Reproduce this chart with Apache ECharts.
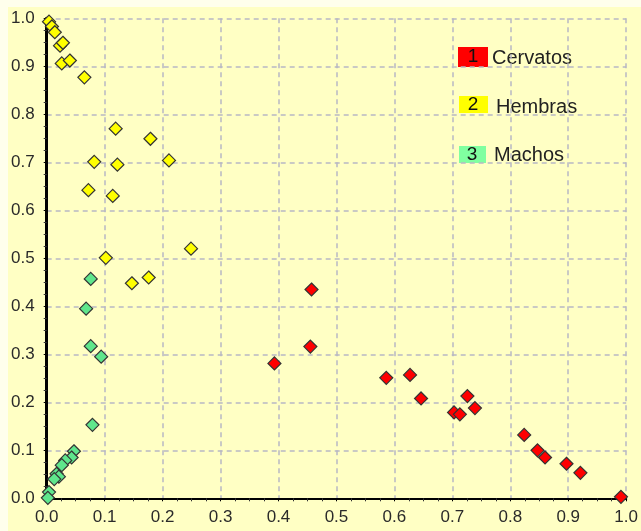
<!DOCTYPE html>
<html><head><meta charset="utf-8">
<script src="https://cdn.jsdelivr.net/npm/echarts@6/dist/echarts.min.js"></script>
<style>
html,body{margin:0;padding:0;background:#FFFFEC;}
#wrap{position:relative;width:641px;height:531px;}
#bg{position:absolute;left:8px;top:7px;right:0;bottom:0;background:#FFFFC4;}
#c{position:absolute;left:0;top:0;width:641px;height:531px;}
</style>
</head><body><div id="wrap"><div id="bg"></div><div id="c"></div></div>
<script>
const seriesNames = ['Cervatos', 'Hembras', 'Machos'];
const cervatos = [
  [0.457,0.435],[0.455,0.316],[0.393,0.281],[0.586,0.251],[0.627,0.257],[0.646,0.208],
  [0.703,0.179],[0.713,0.175],[0.726,0.213],[0.739,0.188],[0.824,0.132],[0.847,0.100],
  [0.860,0.085],[0.897,0.072],[0.921,0.053],[0.991,0.003]
];
const hembras = [
  [0.004,0.993],[0.009,0.983],[0.014,0.971],[0.023,0.943],[0.028,0.949],[0.026,0.906],
  [0.040,0.912],[0.065,0.877],[0.119,0.770],[0.179,0.749],[0.082,0.701],[0.122,0.695],
  [0.211,0.704],[0.072,0.642],[0.114,0.630],[0.102,0.501],[0.249,0.520],[0.147,0.448],
  [0.176,0.460]
];
const machos = [
  [0.076,0.457],[0.068,0.395],[0.076,0.317],[0.094,0.295],[0.079,0.153],[0.047,0.098],
  [0.043,0.085],[0.032,0.079],[0.026,0.069],[0.017,0.051],[0.021,0.045],[0.013,0.040],
  [0.004,0.013],[0.002,0.001]
];
const markerColors = ['#FF0000', '#FFFF00', '#5FE68C'];
const legendColors = ['#FF0000', '#FFFF00', '#80FFA0'];

const chart = echarts.init(document.getElementById('c'));
const FONT = 'Liberation Sans, Arial, sans-serif';
const labelStyle = {color:'#2a2a2a', fontSize:17, fontFamily:FONT};
const legendBoxes = [[458,47,30,20],[459,96,29,17],[459,146,27,17]];
const legendNumPos = [[473,57],[473,105],[472,155]];
const legendTextPos = [[492,58],[496,107],[494,155]];
const legendGraphics = [];
seriesNames.forEach((n,i)=>{
  const b = legendBoxes[i];
  legendGraphics.push({type:'rect', shape:{x:b[0], y:b[1], width:b[2], height:b[3]}, style:{fill:legendColors[i]}});
  legendGraphics.push({type:'text', x:legendNumPos[i][0], y:legendNumPos[i][1], style:{text:String(i+1), fill:'#111', font:'19px '+FONT, align:'center', verticalAlign:'middle'}});
  legendGraphics.push({type:'text', x:legendTextPos[i][0], y:legendTextPos[i][1], style:{text:n, fill:'#222', font:'20px '+FONT, align:'left', verticalAlign:'middle'}});
});
chart.setOption({
  backgroundColor:'transparent',
  animation:false,
  grid:{left:46.7, right:7.7, top:18.3, bottom:32.7},
  xAxis:[{
    type:'value', min:0, max:1, interval:0.1,
    axisLine:{show:true, onZero:false, lineStyle:{color:'#000', width:2}},
    axisTick:{show:true, inside:false, length:3, lineStyle:{color:'#000'}},
    minorTick:{show:true, splitNumber:4, length:3, lineStyle:{color:'#333'}},
    axisLabel:Object.assign({formatter:v=>v.toFixed(1), margin:11}, labelStyle),
    splitLine:{show:true, lineStyle:{color:'#B8B8C4', type:[5,4], width:1.5}}
  },{
    type:'value', min:0, max:1, position:'top',
    axisLine:{show:true, lineStyle:{color:'#000', width:2, type:[5,3]}},
    axisTick:{show:false}, axisLabel:{show:false}, splitLine:{show:false}
  }],
  yAxis:[{
    type:'value', min:0, max:1, interval:0.1,
    axisLine:{show:true, onZero:false, lineStyle:{color:'#000', width:3}},
    axisTick:{show:true, inside:false, length:3, lineStyle:{color:'#000'}},
    minorTick:{show:true, splitNumber:4, length:3, lineStyle:{color:'#333'}},
    axisLabel:Object.assign({formatter:v=>v.toFixed(1), margin:12}, labelStyle),
    splitLine:{show:true, lineStyle:{color:'#B8B8C4', type:[5,4], width:1.5}}
  },{
    type:'value', min:0, max:1, position:'right',
    axisLine:{show:true, lineStyle:{color:'#000', width:2, type:[5,3]}},
    axisTick:{show:false}, axisLabel:{show:false}, splitLine:{show:false}
  }],
  series:[cervatos, hembras, machos].map((d,i)=>({
    type:'scatter', name:seriesNames[i], data:d, symbol:'diamond', symbolSize:13,
    itemStyle:{color:markerColors[i], borderColor:'#333', borderWidth:1.2, opacity:1}
  })),
  graphic: legendGraphics
});
</script></body></html>
